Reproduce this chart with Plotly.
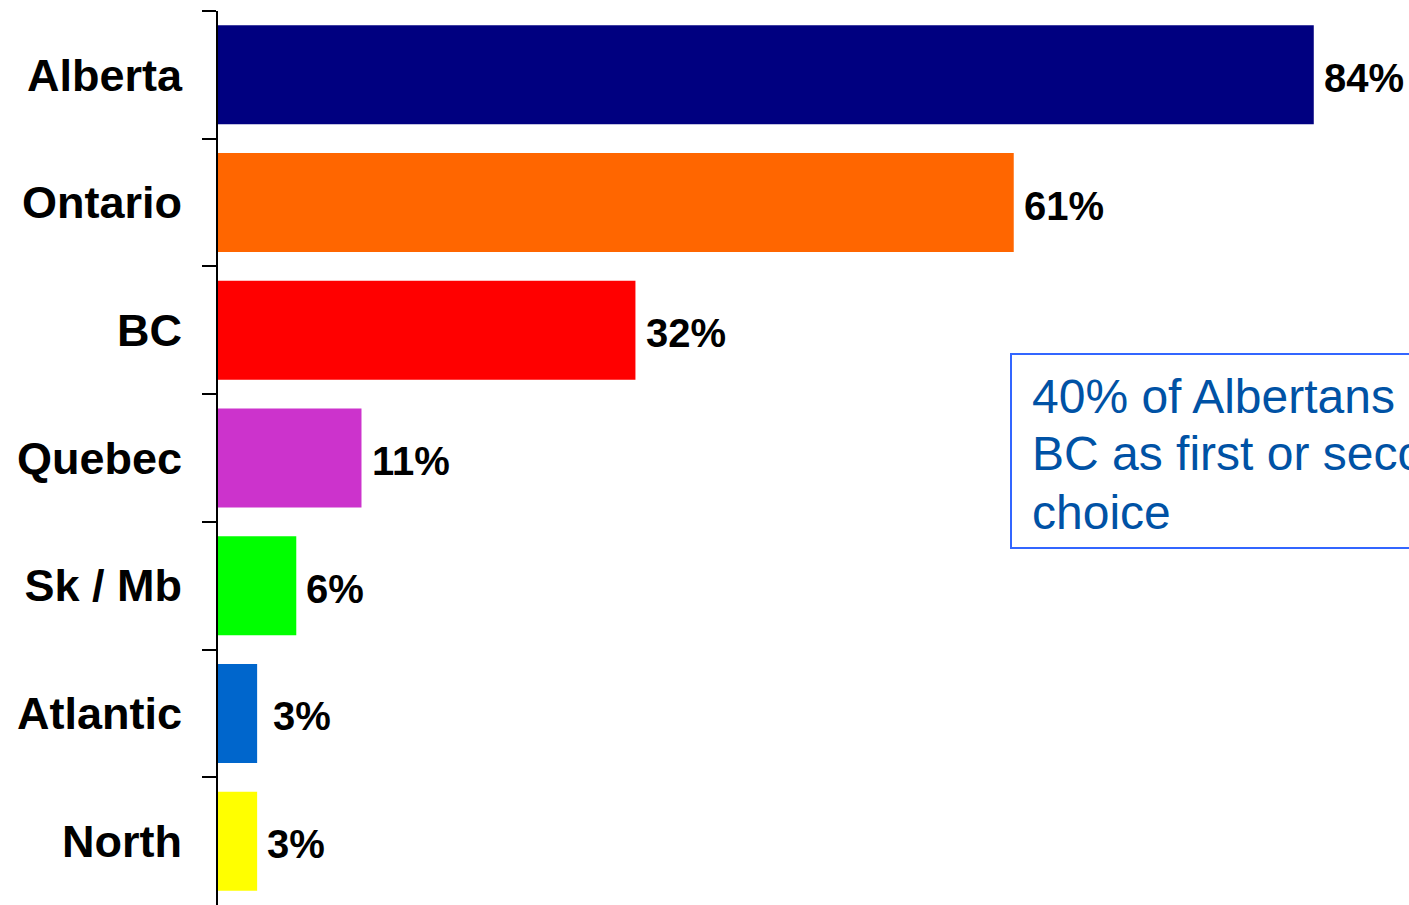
import plotly.graph_objects as go

# Share of respondents naming each region
regions = ["Alberta", "Ontario", "BC", "Quebec", "Sk / Mb", "Atlantic", "North"]
shares = [84, 61, 32, 11, 6, 3, 3]
labels = ["84%", "61%", "32%", "11%", "6%", "3%", "3%"]
bar_colors = ["#000080", "#FF6600", "#FF0000", "#CC33CC", "#00FF00", "#0066CC", "#FFFF00"]
label_shift = [8, 8, 9, 9, 8, 14, 8]

note_lines = ["40% of Albertans", "BC as first or second", "choice"]

# Plot-area geometry (pixels) used to place the callout box in paper units
PLOT_LEFT, PLOT_TOP, PLOT_W, PLOT_H = 218, 11, 1191, 894


def px_x(px):
    return (px - PLOT_LEFT) / PLOT_W


def px_y(py):
    return 1 - (py - PLOT_TOP) / PLOT_H


fig = go.Figure()
fig.add_trace(go.Bar(
    y=regions,
    x=shares,
    orientation="h",
    marker=dict(color=bar_colors, line=dict(width=0)),
    width=0.775,
    hoverinfo="skip",
))

for reg, val, lab, sh in zip(regions, shares, labels, label_shift):
    fig.add_annotation(
        x=val, y=reg, xref="x", yref="y",
        text=lab, showarrow=False,
        xanchor="left", yanchor="middle", xshift=sh, yshift=-3,
        font=dict(family="Liberation Sans", size=40, color="#000000", weight="bold"),
    )

# Callout box with its three text lines
fig.add_shape(
    type="rect", xref="paper", yref="paper",
    x0=px_x(1011), x1=px_x(1460), y0=px_y(548), y1=px_y(354),
    line=dict(color="#3366FF", width=2), fillcolor="#FFFFFF", layer="above",
)
for i, line in enumerate(note_lines):
    fig.add_annotation(
        x=px_x(1030), y=px_y(396 + 58 * i), xref="paper", yref="paper",
        xanchor="left", yanchor="middle",
        text=line, showarrow=False, align="left",
        font=dict(family="Liberation Sans", size=48, color="#0052A5"),
    )

fig.update_layout(
    width=1409, height=905,
    margin=dict(l=PLOT_LEFT, r=0, t=PLOT_TOP, b=0),
    paper_bgcolor="#FFFFFF", plot_bgcolor="#FFFFFF",
    showlegend=False,
    xaxis=dict(range=[0, 91.3], visible=False, fixedrange=True),
    yaxis=dict(
        categoryorder="array", categoryarray=regions, autorange="reversed",
        showline=True, linecolor="#000000", linewidth=2,
        ticks="outside", tickson="boundaries", ticklen=14, tickwidth=2, tickcolor="#000000",
        showgrid=False, zeroline=False,
        tickfont=dict(family="Liberation Sans", size=45, color="#000000", weight="bold"),
        ticklabelstandoff=25,
    ),
)

fig.write_html("out.html")
